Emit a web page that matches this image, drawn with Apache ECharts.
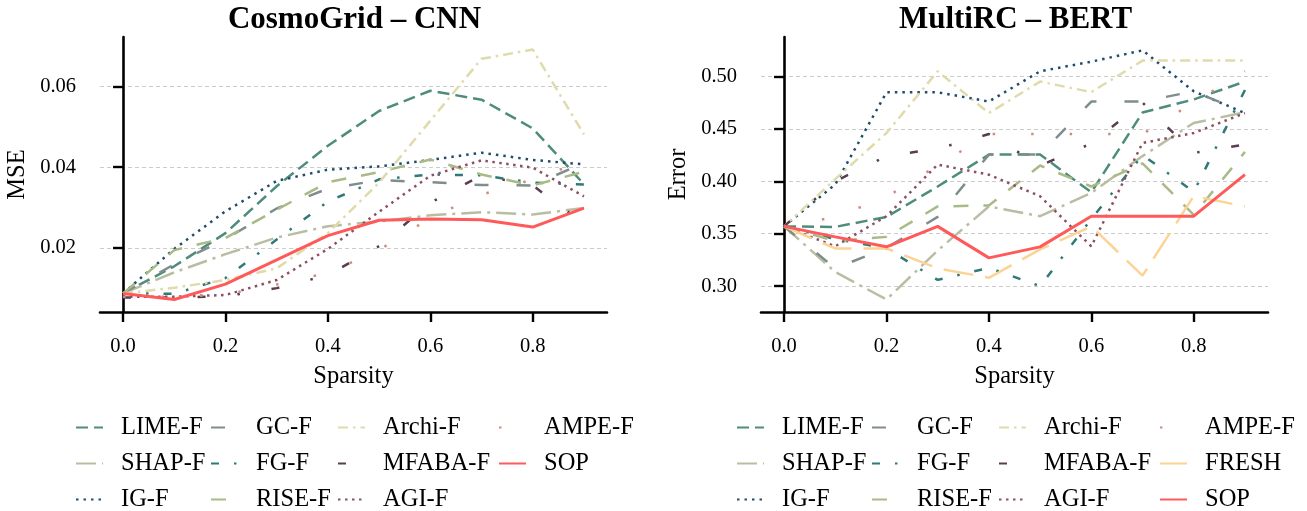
<!DOCTYPE html>
<html>
<head>
<meta charset="utf-8">
<script src="https://cdn.jsdelivr.net/npm/echarts@6/dist/echarts.min.js"></script>
<style>
html,body{margin:0;padding:0;background:#fff;}
#chart{width:1307px;height:511px;}
</style>
</head>
<body>
<div id="chart"></div>
<script>
// ---- data ----
const sparsity = [0.0, 0.1, 0.2, 0.3, 0.4, 0.5, 0.6, 0.7, 0.8, 0.9];
const xTicks = [0.0, 0.2, 0.4, 0.6, 0.8];
const cosmoTicks = [0.02, 0.04, 0.06];
const multiTicks = [0.30, 0.35, 0.40, 0.45, 0.50];

// CosmoGrid - CNN (MSE)
const cosmoLIME  = [0.0088, 0.0155, 0.0237, 0.0353, 0.0453, 0.0539, 0.0589, 0.0567, 0.0496, 0.0358];
const cosmoSHAP  = [0.0088, 0.0140, 0.0185, 0.0226, 0.0254, 0.0266, 0.0281, 0.0289, 0.0283, 0.0299];
const cosmoIG    = [0.0088, 0.0198, 0.0291, 0.0366, 0.0394, 0.0402, 0.0418, 0.0436, 0.0418, 0.0407];
const cosmoGC    = [0.0088, 0.0160, 0.0222, 0.0298, 0.0347, 0.0368, 0.0363, 0.0356, 0.0355, 0.0411];
const cosmoFG    = [0.0088, 0.0087, 0.0126, 0.0221, 0.0315, 0.0370, 0.0382, 0.0380, 0.0362, 0.0357];
const cosmoRISE  = [0.0088, 0.0195, 0.0225, 0.0295, 0.0363, 0.0388, 0.0419, 0.0382, 0.0355, 0.0389];
const cosmoArchi = [0.0088, 0.0102, 0.0121, 0.0150, 0.0237, 0.0362, 0.0515, 0.0668, 0.0691, 0.0481];
const cosmoMFABA = [0.0078, 0.0078, 0.0081, 0.0101, 0.0133, 0.0205, 0.0312, 0.0380, 0.0355, 0.0260];
const cosmoAGI   = [0.0080, 0.0080, 0.0084, 0.0121, 0.0198, 0.0290, 0.0379, 0.0417, 0.0399, 0.0328];
const cosmoAMPE  = [0.0080, 0.0080, 0.0085, 0.0110, 0.0139, 0.0195, 0.0275, 0.0332, 0.0370, 0.0415];
const cosmoSOP   = [0.0088, 0.0073, 0.0111, 0.0171, 0.0231, 0.0269, 0.0272, 0.0270, 0.0252, 0.0299];

// MultiRC - BERT (Error)
const multiLIME  = [0.357, 0.3565, 0.366, 0.395, 0.4254, 0.4254, 0.3895, 0.4655, 0.478, 0.495];
const multiSHAP  = [0.357, 0.3135, 0.2873, 0.334, 0.376, 0.3667, 0.389, 0.424, 0.4556, 0.4657];
const multiIG    = [0.357, 0.397, 0.4848, 0.4848, 0.476, 0.5048, 0.514, 0.5248, 0.4857, 0.465];
const multiGC    = [0.357, 0.317, 0.3364, 0.366, 0.4254, 0.4254, 0.476, 0.476, 0.4857, 0.4657];
const multiFG    = [0.357, 0.345, 0.336, 0.306, 0.3175, 0.300, 0.364, 0.425, 0.390, 0.487];
const multiRISE  = [0.357, 0.343, 0.347, 0.376, 0.377, 0.415, 0.395, 0.417, 0.368, 0.428];
const multiArchi = [0.357, 0.402, 0.446, 0.5048, 0.465, 0.495, 0.485, 0.515, 0.515, 0.515];
const multiMFABA = [0.357, 0.400, 0.424, 0.431, 0.445, 0.415, 0.436, 0.475, 0.427, 0.435];
const multiAGI   = [0.357, 0.338, 0.3667, 0.4159, 0.4063, 0.3857, 0.338, 0.4365, 0.446, 0.465];
const multiAMPE  = [0.357, 0.366, 0.385, 0.415, 0.445, 0.445, 0.445, 0.445, 0.475, 0.505];
const multiFRESH = [0.357, 0.336, 0.336, 0.317, 0.308, 0.335, 0.357, 0.310, 0.386, 0.376];
const multiSOP   = [0.357, 0.347, 0.3375, 0.357, 0.327, 0.3375, 0.3667, 0.3667, 0.3667, 0.4063];

// ---- styles ----
const styles = {
  'LIME-F':  {color: '#4e8c7b', type: [12, 6]},
  'SHAP-F':  {color: '#b9bea3', type: [20, 6, 3, 6]},
  'IG-F':    {color: '#1f4d6c', type: [2.5, 5]},
  'GC-F':    {color: '#7f8e8c', type: [14, 28]},
  'FG-F':    {color: '#2f7a77', type: [8, 15, 2.5, 15]},
  'RISE-F':  {color: '#a8ba86', type: [15, 15]},
  'Archi-F': {color: '#dfdbaa', type: [10, 5, 2.5, 5]},
  'MFABA-F': {color: '#5b3d50', type: [8, 32, 2.5, 32]},
  'AGI-F':   {color: '#8c5060', type: [2.5, 4.5]},
  'AMPE-F':  {color: '#c98f7d', type: [2.5, 36]},
  'FRESH':   {color: '#fbd394', type: [30, 12]},
  'SOP':     {color: '#ff5a5a', type: 'solid'}
};

const FONT = 'Liberation Serif';
const G0 = {left: 100, top: 37, width: 507, height: 275};
const G1 = {left: 761, top: 37, width: 507, height: 275};

function mk(name, vals, idx) {
  const st = styles[name];
  return {
    name: name, type: 'line', xAxisIndex: idx, yAxisIndex: idx,
    data: sparsity.map((x, i) => [x, vals[i]]),
    symbol: 'none', smooth: false,
    lineStyle: {color: st.color, width: name === 'SOP' ? 3 : 2.5, type: st.type, cap: 'butt'},
    itemStyle: {color: st.color},
    z: name === 'SOP' ? 5 : 2,
    animation: false
  };
}

const series = [
  mk('LIME-F', cosmoLIME, 0), mk('SHAP-F', cosmoSHAP, 0), mk('IG-F', cosmoIG, 0),
  mk('GC-F', cosmoGC, 0), mk('FG-F', cosmoFG, 0), mk('RISE-F', cosmoRISE, 0),
  mk('Archi-F', cosmoArchi, 0), mk('MFABA-F', cosmoMFABA, 0), mk('AGI-F', cosmoAGI, 0),
  mk('AMPE-F', cosmoAMPE, 0), mk('SOP', cosmoSOP, 0),
  mk('LIME-F', multiLIME, 1), mk('SHAP-F', multiSHAP, 1), mk('IG-F', multiIG, 1),
  mk('GC-F', multiGC, 1), mk('FG-F', multiFG, 1), mk('RISE-F', multiRISE, 1),
  mk('Archi-F', multiArchi, 1), mk('MFABA-F', multiMFABA, 1), mk('AGI-F', multiAGI, 1),
  mk('AMPE-F', multiAMPE, 1), mk('FRESH', multiFRESH, 1), mk('SOP', multiSOP, 1)
];

function xAx(idx) {
  return {
    type: 'value', gridIndex: idx, min: -0.045, max: 0.945,
    name: 'Sparsity', nameLocation: 'middle', nameGap: 52,
    nameTextStyle: {fontFamily: FONT, fontSize: 24.5, color: '#000'},
    axisLine: {show: true, lineStyle: {color: '#000', width: 2.6}},
    axisTick: {show: true, customValues: xTicks, length: 10, lineStyle: {color: '#000', width: 2.4}},
    axisLabel: {customValues: xTicks, formatter: v => v.toFixed(1), fontFamily: FONT, fontSize: 20.5, color: '#000', margin: 24},
    splitLine: {show: false}
  };
}
function yAx(idx, min, max, ticks, dec, name) {
  return {
    type: 'value', gridIndex: idx, min: min, max: max,
    name: name, nameLocation: 'middle', nameGap: 70,
    nameTextStyle: {fontFamily: FONT, fontSize: 24.5, color: '#000'},
    axisLine: {show: true, lineStyle: {color: '#000', width: 2.6}},
    axisTick: {show: true, customValues: ticks, length: 10, lineStyle: {color: '#000', width: 2.4}},
    axisLabel: {customValues: ticks, formatter: v => v.toFixed(dec), fontFamily: FONT, fontSize: 20.5, color: '#000', margin: 24},
    splitLine: {show: true, lineStyle: {color: '#cccccc', width: 1, type: [4, 3]}}
  };
}

function legendCol(handleX, names) {
  return {
    orient: 'vertical', left: handleX - 5, top: 410, height: 140,
    itemGap: 11, itemWidth: 27, itemHeight: 24,
    data: names, selectedMode: false,
    itemStyle: {opacity: 0},
    textStyle: {fontFamily: FONT, fontSize: 24.5, color: '#000', padding: [0, 0, 0, 13]}
  };
}

const option = {
  backgroundColor: '#fff',
  animation: false,
  title: [
    {text: 'CosmoGrid – CNN', left: G0.left + G0.width / 2 + 1, top: 4, padding: 0, textAlign: 'center',
     textStyle: {fontFamily: FONT, fontSize: 31, fontWeight: 'bold', color: '#000'}},
    {text: 'MultiRC – BERT', left: G1.left + G1.width / 2 + 1, top: 4, padding: 0, textAlign: 'center',
     textStyle: {fontFamily: FONT, fontSize: 31, fontWeight: 'bold', color: '#000'}}
  ],
  grid: [G0, G1],
  xAxis: [xAx(0), xAx(1)],
  yAxis: [
    yAx(0, 0.0042, 0.0722, cosmoTicks, 2, 'MSE'),
    yAx(1, 0.2754, 0.5375, multiTicks, 2, 'Error')
  ],
  legend: [
    legendCol(75, ['LIME-F', 'SHAP-F', 'IG-F']),
    legendCol(210, ['GC-F', 'FG-F', 'RISE-F']),
    legendCol(337, ['Archi-F', 'MFABA-F', 'AGI-F']),
    legendCol(498, ['AMPE-F', 'SOP']),
    legendCol(736, ['LIME-F', 'SHAP-F', 'IG-F']),
    legendCol(871, ['GC-F', 'FG-F', 'RISE-F']),
    legendCol(998, ['Archi-F', 'MFABA-F', 'AGI-F']),
    legendCol(1159, ['AMPE-F', 'FRESH', 'SOP'])
  ],
  series: series
};

const chart = echarts.init(document.getElementById('chart'), null, {renderer: 'canvas'});
chart.setOption(option);
</script>
</body>
</html>
